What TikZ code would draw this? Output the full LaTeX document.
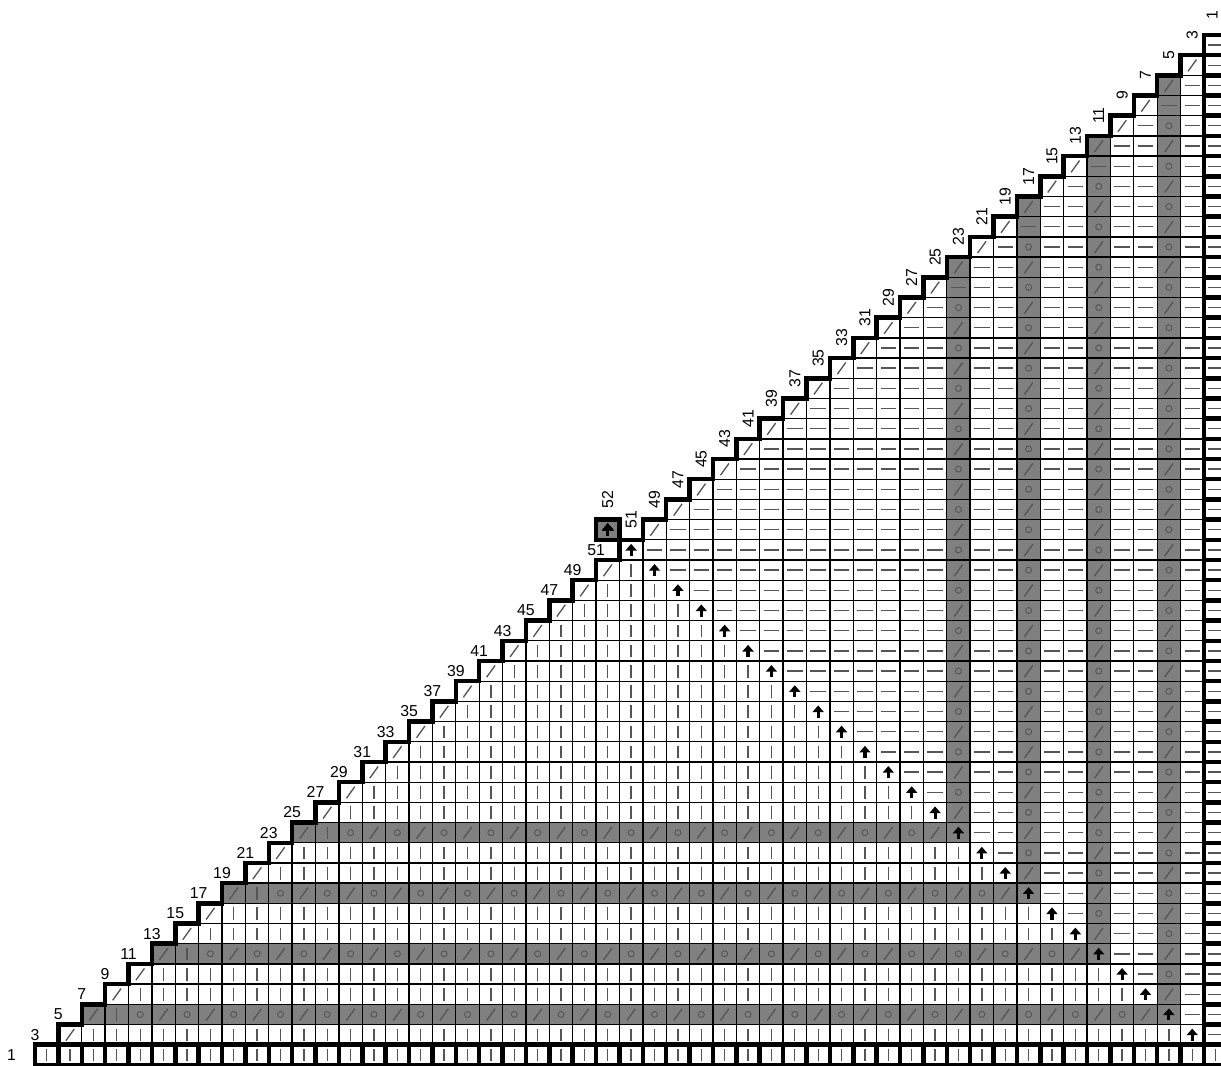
\documentclass[tikz,border=0pt]{standalone}
\usepackage{fontspec}
\setmainfont{Liberation Sans}
\usetikzlibrary{arrows.meta}
\definecolor{bandgray}{RGB}{128,128,128}
\definecolor{stgray}{RGB}{85,85,85}
\tikzset{
  thn/.style={black, line width=0.8pt},
  thk/.style={black, line width=2.7pt, line join=miter},
  band/.style={fill=bandgray},
  stl/.style={stgray, line width=0.8pt},
  yo/.style={stgray, line width=0.55pt},
  upar/.style={-{Triangle[length=4pt,width=6.6pt]}, black, line width=1.9pt},
  rlab/.style={font=\fontsize{9.5}{11}\selectfont, inner sep=0pt},
  clab/.style={font=\fontsize{9.5}{11}\selectfont, inner sep=0pt, rotate=90},
}
% arrow symbol, args: column, row
\newcommand{\stU}[2]{\draw[upar] (#1+0.5,#2+0.2) -- (#1+0.5,#2+0.8);}

\begin{document}
\begin{tikzpicture}[x=14.03pt, y=12.12pt]
  \useasboundingbox (-1.497,-0.04) rectangle (50.73,52.73);
  % grey bands
  \foreach \i in {2,5,8,11}
    \fill[band] (\i,\i) rectangle (51-\i,\i+1);
  \foreach \j in {48,45,42,39}
    \fill[band] (\j,50-\j) rectangle (\j+1,\j+1);
  \fill[band] (24,26) rectangle (25,27);
  % thin grid
  \draw[thn] \foreach \m in {1,...,51}{ (\m-1,\m) -- (51,\m) }
             \foreach \m in {1,...,50}{ (\m,0) -- (\m,\m+1) };
  \draw[thn] (24,26) rectangle (25,27);
  % knit rows (left half)
  \draw[stl] \foreach \j in {0,...,50}{ (\j+0.5,0.18) -- (\j+0.5,0.8) };
  \draw[stl] \foreach \i [evaluate=\i as \a using int(\i+1),
                          evaluate=\i as \b using int(49-\i)]
      in {1,3,4,6,7,9,10,12,13,...,24}
      {\foreach \j in {\a,...,\b}{ (\j+0.5,\i+0.18) -- (\j+0.5,\i+0.8) }};
  \draw[stl] \foreach \i in {2,5,8,11}{ (\i+1.5,\i+0.18) -- (\i+1.5,\i+0.8) };
  \draw[stl] \foreach \i [evaluate=\i as \a using int(\i+3),
                          evaluate=\i as \c using int(\i+5),
                          evaluate=\i as \b using int(49-\i)]
      in {2,5,8,11}
      {\foreach \j in {\a,\c,...,\b}{ (\j+0.32,\i+0.2) -- (\j+0.68,\i+0.78) }};
  \draw[yo] \foreach \i [evaluate=\i as \a using int(\i+2),
                         evaluate=\i as \c using int(\i+4),
                         evaluate=\i as \b using int(48-\i)]
      in {2,5,8,11}
      {\foreach \j in {\a,\c,...,\b}{ (\j+0.5,\i+0.5) circle[radius=1.8pt] }};
  % knit columns (right half)
  \draw[stl] \foreach \i in {1,...,50}{ (50.17,\i+0.5) -- (50.83,\i+0.5) };
  \draw[stl] \foreach \j [evaluate=\j as \a using int(51-\j),
                          evaluate=\j as \b using int(\j-1)]
      in {26,27,...,38,40,41,43,44,46,47,49}
      {\foreach \i in {\a,...,\b}{ (\j+0.17,\i+0.5) -- (\j+0.83,\i+0.5) }};
  \draw[stl] \foreach \j in {39,42,45,48}{ (\j+0.17,\j-0.5) -- (\j+0.83,\j-0.5) };
  \draw[stl] \foreach \j [evaluate=\j as \a using int(51-\j),
                          evaluate=\j as \c using int(53-\j),
                          evaluate=\j as \b using int(\j-3)]
      in {39,42,45,48}
      {\foreach \i in {\a,\c,...,\b}{ (\j+0.32,\i+0.2) -- (\j+0.68,\i+0.78) }};
  \draw[yo] \foreach \j [evaluate=\j as \a using int(52-\j),
                         evaluate=\j as \c using int(54-\j),
                         evaluate=\j as \b using int(\j-2)]
      in {39,42,45,48}
      {\foreach \i in {\a,\c,...,\b}{ (\j+0.5,\i+0.5) circle[radius=1.8pt] }};
  % edge decreases
  \draw[stl] \foreach \m in {1,...,24}{ (\m+0.32,\m+0.2) -- (\m+0.68,\m+0.78) }
             \foreach \m in {26,...,49}{ (\m+0.32,\m+0.2) -- (\m+0.68,\m+0.78) };
  % centre line
  \foreach \j in {25,...,49} \stU{\j}{50-\j}
  \stU{24}{26}
  % thick outlines
  \draw[thk] \foreach \j in {0,...,50}{ (\j,0) rectangle +(1,1) };
  \draw[thk] \foreach \i in {1,...,50}{ (50,\i) rectangle +(1,1) };
  \draw[thk] (0,1) \foreach \m in {1,...,50}{ -- (\m,\m) -- (\m,\m+1) } -- (51,51);
  \draw[thk] (24,26) rectangle (25,27);
  % row and column numbers
  \foreach \i in {0,...,25}{
    \pgfmathtruncatemacro{\n}{2*\i+1}
    \node[rlab] (rl\i) at (\i-1,\i+0.5) {\n};
  }
  \foreach \j in {25,...,49}{
    \pgfmathtruncatemacro{\n}{101-2*\j}
    \node[clab] (cl\j) at (\j+0.5,\j+2) {\n};
  }
  \node[clab] (cl50) at (50.35,52) {1};
  \node[clab] (mid) at (24.5,28) {52};
\end{tikzpicture}
\end{document}
